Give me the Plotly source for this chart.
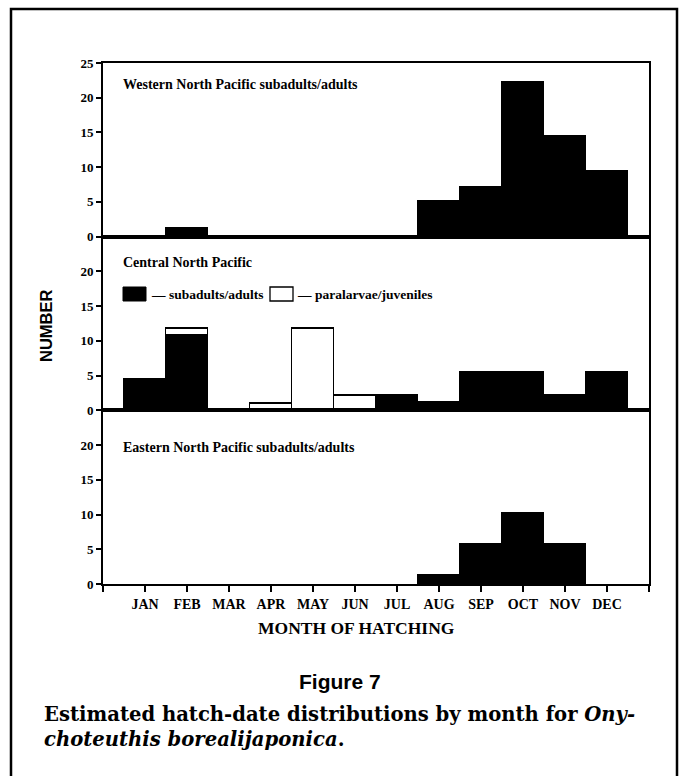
import plotly.graph_objects as go
from plotly.subplots import make_subplots

# ---------------- data ----------------
months = ["JAN", "FEB", "MAR", "APR", "MAY", "JUN", "JUL", "AUG", "SEP", "OCT", "NOV", "DEC"]
month_index = [1, 2, 3, 4, 5, 6, 7, 8, 9, 10, 11, 12]

# None = no bar drawn for that month
western_adults = [None, 1.2, None, None, None, None, None, 5.1, 7.2, 22.2, 14.5, 9.5]
central_adults = [4.5, 10.7, None, None, None, None, 2.3, 1.2, 5.6, 5.6, 2.3, 5.6]
central_juveniles = [None, 1.1, None, 1.0, 11.7, 2.1, None, None, None, None, None, None]
eastern_adults = [None, None, None, None, None, None, None, 1.3, 5.7, 10.2, 5.7, None]

panel_titles = ["Western North Pacific subadults/adults",
                "Central North Pacific",
                "Eastern North Pacific subadults/adults"]
legend_labels = ["\u2014 subadults/adults", "\u2014 paralarvae/juveniles"]
y_ticks_top = [0, 5, 10, 15, 20, 25]
y_ticks_low = [0, 5, 10, 15, 20]

# ---------------- layout geometry (pixels) ----------------
W, H = 679, 776
L, R, T, B = 103, 649, 63, 584  # plot area in pixels


def px(x):
    return (x - L) / (R - L)


def py(y):
    return (B - y) / (B - T)


SERIF = "Liberation Serif"
SANS = "Liberation Sans"

fig = make_subplots(rows=3, cols=1, shared_xaxes=True, vertical_spacing=0)

black_bar = dict(color="black", line=dict(color="black", width=1))
white_bar = dict(color="white", line=dict(color="black", width=1.3))

fig.add_trace(go.Bar(x=month_index, y=western_adults, width=1, marker=black_bar,
                     name="subadults/adults", showlegend=False), row=1, col=1)
fig.add_trace(go.Bar(x=month_index, y=central_adults, width=1, marker=black_bar,
                     name="subadults/adults", showlegend=False), row=2, col=1)
fig.add_trace(go.Bar(x=month_index, y=central_juveniles, width=1, marker=white_bar,
                     name="paralarvae/juveniles", showlegend=False), row=2, col=1)
fig.add_trace(go.Bar(x=month_index, y=eastern_adults, width=1, marker=black_bar,
                     name="subadults/adults", showlegend=False), row=3, col=1)

tickfont = dict(family=SERIF, size=13, color="black", weight="bold")

for r in (1, 2, 3):
    fig.update_yaxes(row=r, col=1, range=[0, 25],
                     tickvals=y_ticks_top if r == 1 else y_ticks_low,
                     ticks="outside", ticklen=5, tickwidth=1.5, tickcolor="black",
                     showline=True, linecolor="black", linewidth=1.6, mirror=True,
                     showgrid=False, zeroline=False, tickfont=tickfont)
    fig.update_xaxes(row=r, col=1, range=[0, 13],
                     showline=True, linecolor="black", linewidth=1.6, mirror=True,
                     showgrid=False, zeroline=False)

fig.update_xaxes(row=3, col=1, tickvals=[0] + month_index + [13],
                 ticktext=[""] + months + [""],
                 ticks="outside", ticklen=6, tickwidth=1.5, tickcolor="black",
                 tickfont=dict(family=SERIF, size=14, color="black", weight="bold"),
                 showticklabels=True)
fig.update_xaxes(row=1, col=1, showticklabels=False, ticks="")
fig.update_xaxes(row=2, col=1, showticklabels=False, ticks="")

LBL = dict(family=SERIF, size=14, color="black", weight="bold")
LEG = dict(family=SERIF, size=13.5, color="black", weight="bold")

annotations = []
# panel titles
for title, ypix in zip(panel_titles, [85, 262, 447]):
    annotations.append(dict(x=px(121), y=py(ypix), xref="paper", yref="paper",
                            text=title, showarrow=False, xanchor="left", yanchor="middle",
                            font=LBL))
# legend texts
annotations.append(dict(x=px(149), y=py(294), xref="paper", yref="paper",
                        text=legend_labels[0], showarrow=False, xanchor="left", yanchor="middle",
                        font=LEG))
annotations.append(dict(x=px(295), y=py(294), xref="paper", yref="paper",
                        text=legend_labels[1], showarrow=False, xanchor="left", yanchor="middle",
                        font=LEG))
# axis titles
annotations.append(dict(x=px(356), y=py(628), xref="paper", yref="paper",
                        text="MONTH OF HATCHING", showarrow=False, xanchor="center", yanchor="middle",
                        font=dict(family=SERIF, size=17.5, color="black", weight="bold")))
annotations.append(dict(x=px(46), y=py(326), xref="paper", yref="paper",
                        text="NUMBER", showarrow=False, xanchor="center", yanchor="middle",
                        textangle=-90,
                        font=dict(family=SANS, size=16.5, color="black", weight="bold")))
# figure caption
annotations.append(dict(x=px(340), y=py(681), xref="paper", yref="paper",
                        text="Figure 7", showarrow=False, xanchor="center", yanchor="middle",
                        font=dict(family=SANS, size=21, color="black", weight="bold")))
CAP = dict(family="DejaVu Serif", size=19.6, color="black", weight="bold")
annotations.append(dict(x=px(42), y=py(714), xref="paper", yref="paper",
                        text="Estimated hatch-date distributions by month for <i>Ony-</i>",
                        showarrow=False, xanchor="left", yanchor="middle", font=CAP))
annotations.append(dict(x=px(42), y=py(740), xref="paper", yref="paper",
                        text="<i>choteuthis borealijaponica</i>.",
                        showarrow=False, xanchor="left", yanchor="middle", font=CAP))

shapes = []
# outer frame (left, top, right)
shapes.append(dict(type="path", xref="paper", yref="paper",
                   path=f"M {px(11)},{py(776)} L {px(11)},{py(9)} L {px(677)},{py(9)} L {px(677)},{py(776)}",
                   line=dict(color="black", width=2.5)))
# legend boxes
shapes.append(dict(type="rect", xref="paper", yref="paper",
                   x0=px(123), x1=px(146), y0=py(301), y1=py(287),
                   fillcolor="black", line=dict(color="black", width=1)))
shapes.append(dict(type="rect", xref="paper", yref="paper",
                   x0=px(270), x1=px(293), y0=py(301), y1=py(287),
                   fillcolor="white", line=dict(color="black", width=1.3)))

fig.update_layout(width=W, height=H, autosize=False,
                  margin=dict(l=L, r=W - R, t=T, b=H - B, pad=0),
                  paper_bgcolor="white", plot_bgcolor="white",
                  barmode="stack", bargap=0,
                  annotations=annotations, shapes=shapes,
                  showlegend=False)

fig.write_html("out.html")
